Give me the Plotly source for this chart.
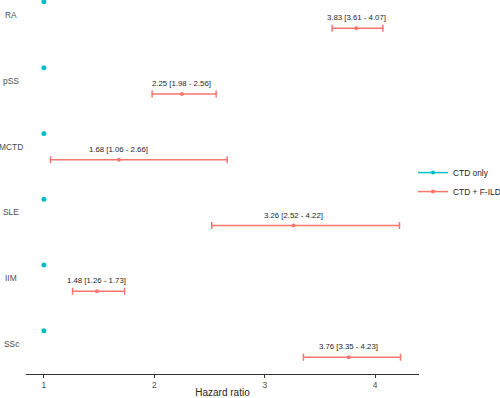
import plotly.graph_objects as go

categories = ["RA", "pSS", "MCTD", "SLE", "IIM", "SSc"]
hr = [3.83, 2.25, 1.68, 3.26, 1.48, 3.76]
ci_low = [3.61, 1.98, 1.06, 2.52, 1.26, 3.35]
ci_high = [4.07, 2.56, 2.66, 4.22, 1.73, 4.23]
ref_hr = [1, 1, 1, 1, 1, 1]
x_ticks = [1, 2, 3, 4]
series_names = ["CTD only", "CTD + F-ILD"]

TEAL = "#00BFC4"
RED = "#F8766D"
FONT = "Liberation Sans, Arial, sans-serif"

n = len(categories)
pos = [n - i for i in range(n)]
dodge = 0.2
y_ref = [p + dodge for p in pos]
y_ild = [p - dodge for p in pos]

fig = go.Figure()

fig.add_trace(go.Scatter(
    x=ref_hr, y=y_ref, mode="markers",
    marker=dict(color=TEAL, size=5),
    showlegend=False, cliponaxis=False, hoverinfo="skip"))

fig.add_trace(go.Scatter(
    x=hr, y=y_ild, mode="markers",
    marker=dict(color=RED, size=4),
    error_x=dict(type="data", symmetric=False,
                 array=[h - m for h, m in zip(ci_high, hr)],
                 arrayminus=[m - l for m, l in zip(hr, ci_low)],
                 color=RED, thickness=1.5, width=3.5),
    showlegend=False, cliponaxis=False, hoverinfo="skip"))

# legend entries
for name, col in zip(series_names, [TEAL, RED]):
    fig.add_trace(go.Scatter(
        x=[None], y=[None], mode="lines+markers", name=name,
        line=dict(color=col, width=1.5), marker=dict(color=col, size=4)))

annotations = []
for m, l, h, y in zip(hr, ci_low, ci_high, y_ild):
    annotations.append(dict(
        x=m, y=y, xref="x", yref="y",
        text=f"{m:.2f} [{l:.2f} - {h:.2f}]",
        showarrow=False, yanchor="bottom", xanchor="center", yshift=4,
        font=dict(family=FONT, size=7.8, color="#262626")))

for c, p in zip(categories, pos):
    annotations.append(dict(
        x=-0.038, y=p, xref="paper", yref="y", text=c,
        showarrow=False, xanchor="center", yanchor="middle",
        font=dict(family=FONT, size=8.4, color="#4d4d4d")))

fig.update_layout(
    width=500, height=398,
    margin=dict(l=26, r=81, t=0, b=24, autoexpand=False),
    paper_bgcolor="white", plot_bgcolor="white",
    font=dict(family=FONT, size=8, color="#4d4d4d"),
    annotations=annotations,
    legend=dict(xref="container", yref="container",
                x=0.826, y=0.5425, xanchor="left", yanchor="middle",
                font=dict(family=FONT, size=8.4, color="#262626"),
                itemwidth=30, tracegroupgap=0, bgcolor="rgba(0,0,0,0)"),
    xaxis=dict(range=[0.838, 4.397], tickvals=x_ticks,
               ticktext=[str(t) for t in x_ticks],
               showgrid=False, zeroline=False,
               showline=True, linecolor="#333333", linewidth=1,
               ticks="outside", ticklen=3, tickcolor="#333333",
               tickfont=dict(family=FONT, size=8.4, color="#4d4d4d"),
               title=dict(text="Hazard ratio", standoff=3,
                          font=dict(family=FONT, size=10, color="#262626"))),
    yaxis=dict(range=[0.544, 6.228], showgrid=False, zeroline=False,
               showline=False, showticklabels=False, ticks=""),
)

fig.write_html("out.html")
